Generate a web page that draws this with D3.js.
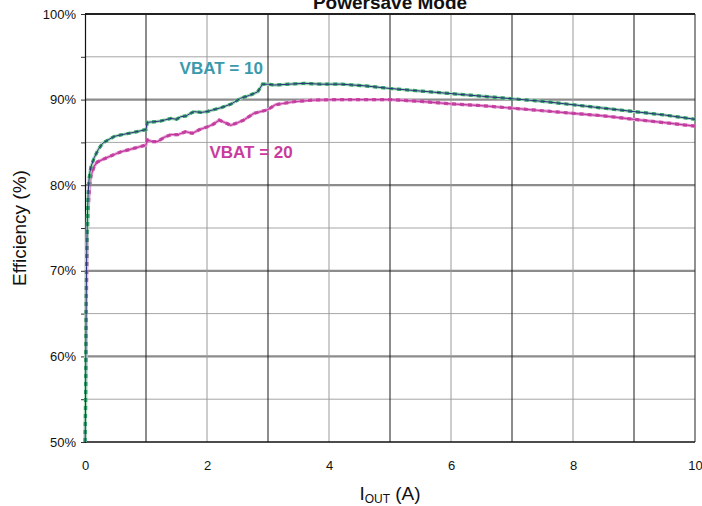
<!DOCTYPE html>
<html>
<head>
<meta charset="utf-8">
<script src="https://cdn.jsdelivr.net/npm/d3@7"></script>
<style>
  body { margin: 0; background: #fff; }
  svg { display: block; font-family: "Liberation Sans", Arial, sans-serif; }
</style>
</head>
<body>
<svg id="viz" width="702" height="506"></svg>
<script>
// efficiency vs output current
var vbat10_x = [0.003, 0.008, 0.012, 0.016, 0.02, 0.025, 0.03, 0.04, 0.05, 0.065, 0.08, 0.1, 0.15, 0.22, 0.29, 0.38, 0.48, 0.6, 0.75, 0.88, 1.0,
  1.02, 1.12, 1.24, 1.41, 1.5, 1.57, 1.66, 1.73, 1.79, 1.9, 2.0, 2.1, 2.23, 2.4, 2.55, 2.7, 2.83, 2.91, 3.0, 3.1, 3.35, 3.6, 3.87, 4.2, 4.6, 5.0, 5.5, 6.0, 6.5, 7.0, 7.5, 8.0, 8.5, 9.0, 9.5, 10.0];
var vbat10_y = [50.0, 54.0, 58.5, 63.0, 67.0, 70.5, 73.0, 76.5, 78.8, 80.6, 81.5, 82.2, 83.2, 84.2, 84.9, 85.3, 85.7, 85.9, 86.1, 86.3, 86.5,
  87.35, 87.4, 87.5, 87.8, 87.7, 88.0, 88.1, 88.4, 88.6, 88.5, 88.6, 88.8, 89.05, 89.5, 90.15, 90.5, 90.9, 91.8, 91.8, 91.7, 91.8, 91.9, 91.8, 91.8, 91.6, 91.3, 91.0, 90.7, 90.4, 90.1, 89.8, 89.4, 89.0, 88.6, 88.2, 87.7];

var vbat20_x = [0.003, 0.008, 0.012, 0.016, 0.02, 0.025, 0.03, 0.04, 0.05, 0.06, 0.07, 0.085, 0.1, 0.15, 0.2, 0.32, 0.45, 0.59, 0.8, 1.0,
  1.02, 1.1, 1.19, 1.3, 1.41, 1.52, 1.65, 1.76, 1.88, 2.0, 2.1, 2.2, 2.3, 2.39, 2.5, 2.6, 2.77, 2.99, 3.12, 3.42, 3.75, 4.1, 4.5, 5.0, 5.5, 6.0, 6.5, 7.0, 7.5, 8.0, 8.5, 9.0, 9.5, 10.0];
var vbat20_y = [50.0, 53.0, 56.5, 60.0, 64.5, 68.0, 71.0, 74.5, 76.8, 78.2, 79.3, 80.4, 81.2, 82.2, 82.7, 83.1, 83.5, 83.9, 84.3, 84.7,
  85.3, 85.1, 85.1, 85.6, 85.9, 85.9, 86.25, 86.06, 86.5, 86.8, 87.1, 87.6, 87.3, 87.0, 87.3, 87.6, 88.4, 88.8, 89.4, 89.75, 89.95, 90.0, 90.0, 90.0, 89.8, 89.5, 89.3, 89.0, 88.7, 88.4, 88.1, 87.7, 87.3, 86.9];

var xTicks = [0, 2, 4, 6, 8, 10];
var yTicks = [50, 60, 70, 80, 90, 100];

var margin = {left: 85, right: 7, top: 14, bottom: 64};
var W = 702, H = 506;
var svg = d3.select("#viz");

var x = d3.scaleLinear().domain([0, 10]).range([margin.left, W - margin.right]);
var y = d3.scaleLinear().domain([50, 100]).range([H - margin.bottom, margin.top]);

var grid = svg.append("g");

// horizontal grid: minor every 5%, major every 10%
d3.range(55, 100, 10).forEach(function (v) {
  grid.append("line")
    .attr("x1", x(0)).attr("x2", x(10))
    .attr("y1", y(v)).attr("y2", y(v))
    .attr("stroke", "#a6a6a6").attr("stroke-width", 1);
});
d3.range(60, 100, 10).forEach(function (v) {
  grid.append("line")
    .attr("x1", x(0)).attr("x2", x(10))
    .attr("y1", y(v)).attr("y2", y(v))
    .attr("stroke", "#8c8c8c").attr("stroke-width", 2.2);
});

// vertical grid: odd amps dark, even amps gray
d3.range(1, 10).forEach(function (v) {
  grid.append("line")
    .attr("x1", x(v)).attr("x2", x(v))
    .attr("y1", y(50)).attr("y2", y(100))
    .attr("stroke", v % 2 ? "#1a1a1a" : "#9a9a9a").attr("stroke-width", 1);
});

// frame
grid.append("line").attr("x1", x(0)).attr("x2", x(10)).attr("y1", y(100)).attr("y2", y(100))
  .attr("stroke", "#222").attr("stroke-width", 2);
grid.append("line").attr("x1", x(0)).attr("x2", x(10)).attr("y1", y(50)).attr("y2", y(50))
  .attr("stroke", "#111").attr("stroke-width", 1.5);
grid.append("line").attr("x1", x(10)).attr("x2", x(10)).attr("y1", y(50)).attr("y2", y(100))
  .attr("stroke", "#222").attr("stroke-width", 1);

// axes
var yAxis = svg.append("g")
  .attr("transform", "translate(" + x(0) + ",0)")
  .call(d3.axisLeft(y).tickValues(d3.range(50, 101, 5)).tickSize(4)
    .tickFormat(function (d) { return yTicks.indexOf(d) >= 0 ? d + "%" : ""; }));
yAxis.select(".domain").attr("stroke", "#111").attr("stroke-width", 1.2);
yAxis.selectAll(".tick line").attr("stroke", "#333");
yAxis.selectAll("text").attr("font-size", 13).attr("fill", "#111").attr("x", -9)
  .attr("font-family", "Liberation Sans, Arial, sans-serif");

var xAxis = svg.append("g")
  .attr("transform", "translate(0," + y(50) + ")")
  .call(d3.axisBottom(x).tickValues(xTicks).tickSize(0).tickPadding(19));
xAxis.select(".domain").remove();
xAxis.selectAll("text").attr("font-size", 13).attr("fill", "#111")
  .attr("font-family", "Liberation Sans, Arial, sans-serif");

// curves
var line = d3.line().x(function (d) { return x(d[0]); }).y(function (d) { return y(d[1]); });
var d10 = d3.zip(vbat10_x, vbat10_y);
var d20 = d3.zip(vbat20_x, vbat20_y);
var plot = svg.append("g");

plot.append("path").datum(d20).attr("d", line).attr("fill", "none")
  .attr("stroke", "#e8a6d6").attr("stroke-width", 3.2);
plot.append("path").datum(d20).attr("d", line).attr("fill", "none")
  .attr("stroke", "#c54aa5").attr("stroke-width", 3.2).attr("stroke-dasharray", "4,4");
plot.append("path").datum(d20).attr("d", line).attr("fill", "none")
  .attr("stroke", "#c2399e").attr("stroke-width", 1.2);

plot.append("path").datum(d10).attr("d", line).attr("fill", "none")
  .attr("stroke", "#a6dcbc").attr("stroke-width", 3.2);
plot.append("path").datum(d10).attr("d", line).attr("fill", "none")
  .attr("stroke", "#2e9b62").attr("stroke-width", 3.2).attr("stroke-dasharray", "4,4");
plot.append("path").datum(d10).attr("d", line).attr("fill", "none")
  .attr("stroke", "#2c2f7d").attr("stroke-width", 1);

// series labels
svg.append("text").attr("x", x(1.55)).attr("y", 74)
  .attr("font-size", 17).attr("font-weight", "bold").attr("fill", "#3a9aab")
  .text("VBAT = 10");
svg.append("text").attr("x", x(2.04)).attr("y", 158)
  .attr("font-size", 17).attr("font-weight", "bold").attr("fill", "#c83c9e")
  .text("VBAT = 20");

// title, clipped at the top edge as in the original
svg.append("text").attr("x", (x(0) + x(10)) / 2).attr("y", 9)
  .attr("text-anchor", "middle").attr("font-size", 19).attr("font-weight", "bold")
  .attr("fill", "#111").text("Powersave Mode");

// axis titles
svg.append("text")
  .attr("transform", "translate(26," + (y(50) + y(100)) / 2 + ") rotate(-90)")
  .attr("text-anchor", "middle").attr("font-size", 19).attr("fill", "#111")
  .text("Efficiency (%)");

var xl = svg.append("text").attr("x", (x(0) + x(10)) / 2).attr("y", 500)
  .attr("text-anchor", "middle").attr("font-size", 19).attr("fill", "#111");
xl.append("tspan").text("I");
xl.append("tspan").attr("font-size", 12).attr("dy", 3).text("OUT");
xl.append("tspan").attr("dy", -3).text(" (A)");
</script>
</body>
</html>
